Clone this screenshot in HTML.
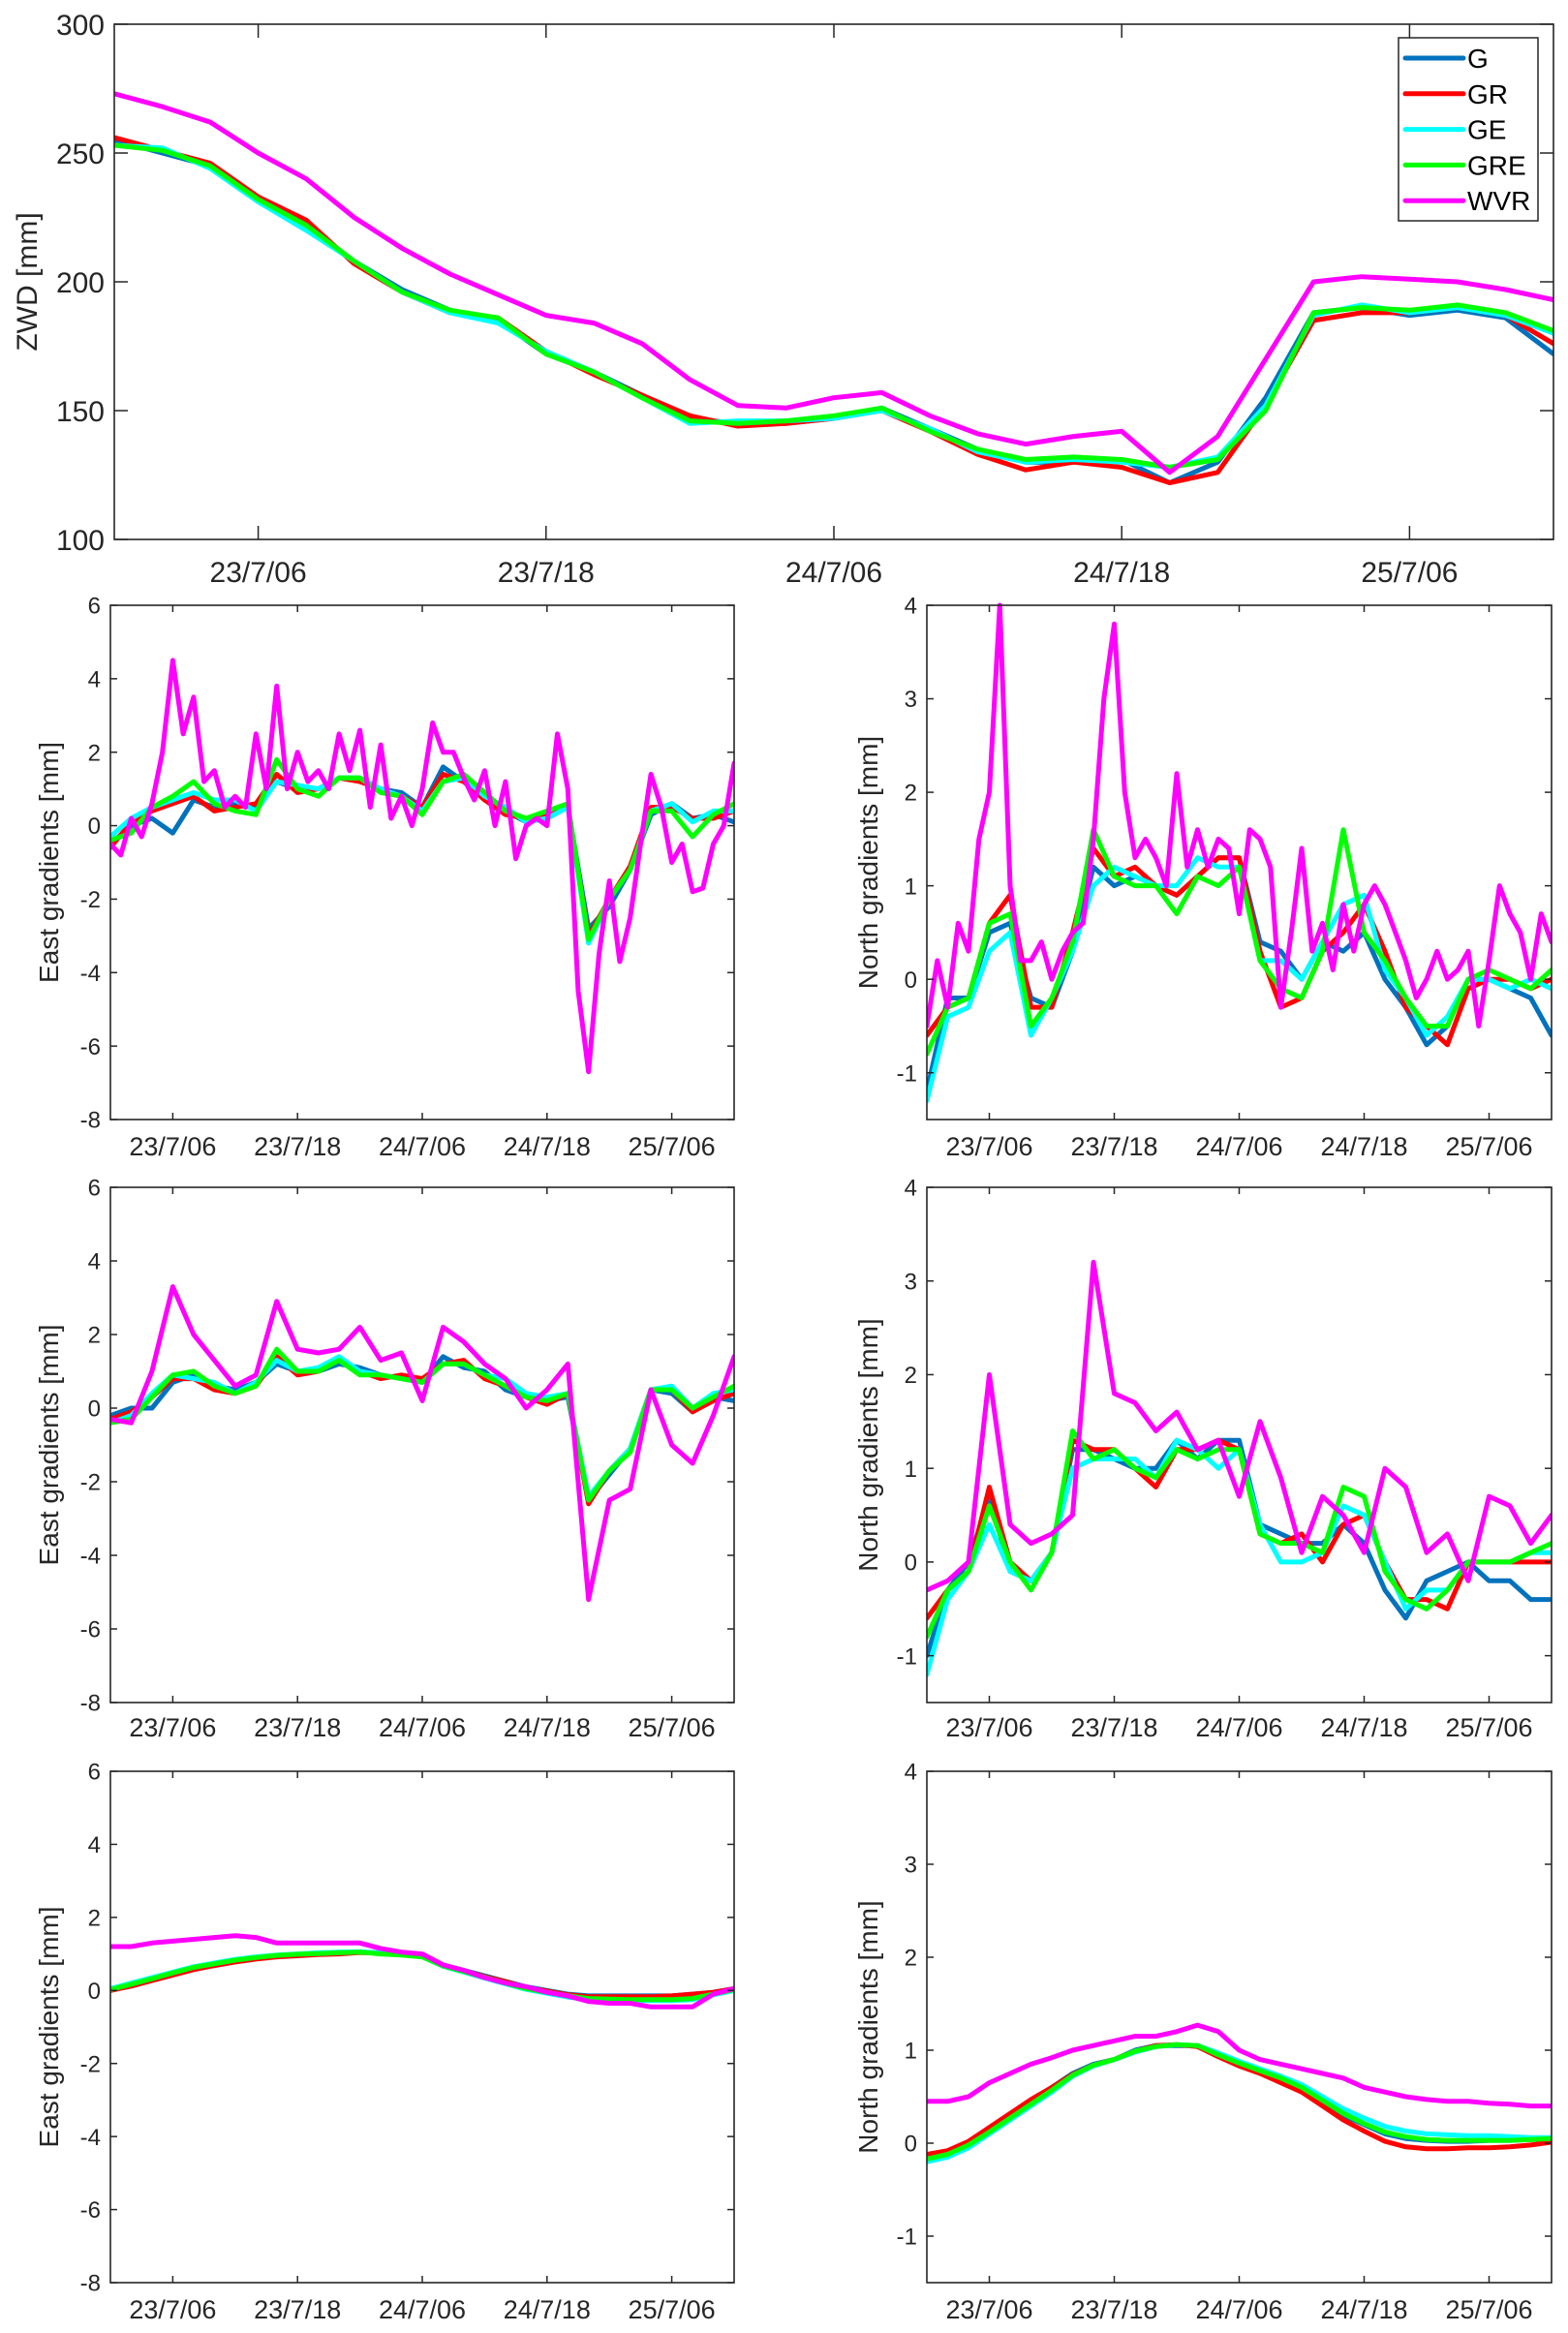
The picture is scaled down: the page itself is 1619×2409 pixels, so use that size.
<!DOCTYPE html>
<html><head><meta charset="utf-8">
<style>
html,body{margin:0;padding:0;background:#fff;}
svg{display:block;font-family:"Liberation Sans",Arial,sans-serif;}
</style></head>
<body>
<svg id="fig" xmlns="http://www.w3.org/2000/svg" width="1619" height="2409" viewBox="0 0 1619 2409"></svg>
<script>
// ---- data (hours since 23/7 00:00) ----
const T2 = [0,2,4,6,8,10,12,14,16,18,20,22,24,26,28,30,32,34,36,38,40,42,44,46,48,50,52,54,56,58,60];
const TH = [0,1,2,3,4,5,6,7,8,9,10,11,12,13,14,15,16,17,18,19,20,21,22,23,24,25,26,27,28,29,30,31,32,33,34,35,36,37,38,39,40,41,42,43,44,45,46,47,48,49,50,51,52,53,54,55,56,57,58,59,60];
const xTickHours = [6,18,30,42,54];
const xTickLabels = ["23/7/06","23/7/18","24/7/06","24/7/18","25/7/06"];
const zwdTicks = [100,150,200,250,300];
const eastTicks = [-8,-6,-4,-2,0,2,4,6];
const northTicks = [-1,0,1,2,3,4];
const seriesNames = ["G","GR","GE","GRE","WVR"];

// ZWD
const zwdG   = [255,250,245,232,222,208,197,189,185,172,165,156,147,145,145,147,151,143,135,130,130,131,122,130,155,188,190,187,189,186,172];
const zwdGR  = [256,251,246,233,224,207,196,188,186,173,164,156,148,144,145,147,150,142,133,127,130,128,122,126,152,185,188,188,190,187,176];
const zwdGE  = [253,252,244,231,220,208,196,188,184,173,165,155,145,146,146,147,150,143,134,130,131,130,128,132,152,187,191,188,190,187,180];
const zwdGRE = [253,251,245,232,222,208,196,189,186,172,165,155,146,145,146,148,151,142,135,131,132,131,128,131,150,188,190,189,191,188,181];
const zwdWVR = [273,268,262,250,240,225,213,203,195,187,184,176,162,152,151,155,157,148,141,137,140,142,126,140,170,200,202,201,200,197,193];

// Row 2 east
const e2G   = [-0.5,0,0.2,-0.2,0.7,0.5,0.6,0.5,1.2,1.0,1.0,1.3,1.3,1.0,0.9,0.5,1.6,1.2,0.8,0.4,0.1,0.2,0.5,-2.8,-2.2,-1.2,0.3,0.6,0.2,0.3,0.1];
const e2GR  = [-0.6,0.1,0.4,0.6,0.8,0.4,0.5,0.6,1.4,0.9,1.0,1.3,1.2,1.0,0.8,0.5,1.4,1.2,0.7,0.3,0.2,0.3,0.5,-3.0,-2.0,-1.1,0.5,0.5,0.2,0.2,0.4];
const e2GE  = [-0.3,0.2,0.5,0.7,0.9,0.7,0.7,0.4,1.2,1.1,1.0,1.3,1.3,1.0,0.8,0.4,1.2,1.3,0.8,0.5,0.1,0.2,0.5,-3.2,-2.0,-1.2,0.4,0.6,0.1,0.4,0.4];
const e2GRE = [-0.4,-0.2,0.5,0.8,1.2,0.6,0.4,0.3,1.8,1.0,0.8,1.3,1.3,0.9,0.8,0.3,1.2,1.4,0.9,0.4,0.2,0.4,0.6,-3.1,-2.0,-1.2,0.4,0.4,-0.3,0.3,0.6];
const e2WVR = [-0.5,-0.8,0.2,-0.3,0.6,2.0,4.5,2.5,3.5,1.2,1.5,0.5,0.8,0.5,2.5,1.0,3.8,1.0,2.0,1.2,1.5,1.0,2.5,1.5,2.6,0.5,2.2,0.2,0.8,0.0,1.0,2.8,2.0,2.0,1.3,0.7,1.5,0.0,1.2,-0.9,0.0,0.2,0.0,2.5,1.0,-4.5,-6.7,-3.5,-1.5,-3.7,-2.5,-0.5,1.4,0.5,-1.0,-0.5,-1.8,-1.7,-0.5,0.0,1.7];

// Row 2 north
const n2G   = [-1.2,-0.2,-0.2,0.5,0.6,-0.2,-0.3,0.3,1.2,1.0,1.1,1.0,0.9,1.1,1.3,1.3,0.4,0.3,0.0,0.4,0.3,0.5,0.0,-0.3,-0.7,-0.5,0.0,0.0,-0.1,-0.2,-0.6];
const n2GR  = [-0.6,-0.3,-0.2,0.6,0.9,-0.3,-0.3,0.5,1.4,1.1,1.2,1.0,0.9,1.1,1.3,1.3,0.3,-0.3,-0.2,0.3,0.5,0.8,0.3,-0.3,-0.5,-0.7,-0.1,0.0,0.0,-0.1,0.0];
const n2GE  = [-1.3,-0.4,-0.3,0.3,0.5,-0.6,-0.2,0.3,1.0,1.2,1.1,1.0,1.0,1.3,1.2,1.2,0.2,0.2,0.0,0.4,0.8,0.9,0.1,-0.2,-0.6,-0.4,0.0,0.0,-0.1,0.0,-0.1];
const n2GRE = [-0.8,-0.3,-0.2,0.6,0.7,-0.5,-0.2,0.4,1.6,1.1,1.0,1.0,0.7,1.1,1.0,1.2,0.2,-0.1,-0.2,0.3,1.6,0.5,0.2,-0.2,-0.5,-0.5,0.0,0.1,0.0,-0.1,0.1];
const n2WVR = [-0.5,0.2,-0.3,0.6,0.3,1.5,2.0,4.0,1.0,0.2,0.2,0.4,0.0,0.3,0.5,0.6,1.5,3.0,3.8,2.0,1.3,1.5,1.3,1.0,2.2,1.2,1.6,1.2,1.5,1.4,0.7,1.6,1.5,1.2,-0.3,0.5,1.4,0.3,0.6,0.1,0.8,0.3,0.8,1.0,0.8,0.5,0.2,-0.2,0.0,0.3,0.0,0.1,0.3,-0.5,0.2,1.0,0.7,0.5,0.0,0.7,0.4];

// Row 3 east
const e3G   = [-0.2,0.0,0.0,0.7,0.9,0.6,0.5,0.7,1.2,1.0,1.0,1.2,1.1,0.9,0.8,0.7,1.4,1.1,1.0,0.5,0.3,0.2,0.3,-2.5,-1.8,-1.1,0.5,0.4,-0.1,0.3,0.2];
const e3GR  = [-0.3,-0.1,0.3,0.8,0.8,0.5,0.4,0.6,1.4,0.9,1.0,1.3,1.0,0.8,0.9,0.8,1.2,1.3,0.8,0.6,0.3,0.1,0.4,-2.6,-1.7,-1.1,0.5,0.5,-0.1,0.2,0.4];
const e3GE  = [-0.4,-0.2,0.4,0.9,0.8,0.7,0.4,0.7,1.3,1.0,1.1,1.4,1.0,0.9,0.8,0.7,1.2,1.2,0.9,0.8,0.4,0.3,0.4,-2.4,-1.7,-1.1,0.5,0.6,0.0,0.4,0.5];
const e3GRE = [-0.4,-0.3,0.3,0.9,1.0,0.6,0.4,0.6,1.6,1.0,1.0,1.3,0.9,0.9,0.8,0.7,1.2,1.2,0.9,0.6,0.3,0.2,0.4,-2.5,-1.7,-1.2,0.5,0.5,0.0,0.3,0.6];
const e3WVR = [-0.3,-0.4,1.0,3.3,2.0,1.3,0.6,0.9,2.9,1.6,1.5,1.6,2.2,1.3,1.5,0.2,2.2,1.8,1.2,0.8,0.0,0.5,1.2,-5.2,-2.5,-2.2,0.5,-1.0,-1.5,-0.2,1.4];

// Row 3 north
const n3G   = [-1.0,-0.3,0.0,0.7,-0.1,-0.2,0.1,1.2,1.2,1.1,1.0,1.0,1.3,1.1,1.3,1.3,0.4,0.3,0.2,0.2,0.4,0.2,-0.3,-0.6,-0.2,-0.1,0.0,-0.2,-0.2,-0.4,-0.4];
const n3GR  = [-0.6,-0.3,-0.1,0.8,0.0,-0.2,0.1,1.3,1.2,1.2,1.0,0.8,1.2,1.2,1.3,1.2,0.3,0.2,0.3,0.0,0.4,0.5,0.0,-0.4,-0.4,-0.5,0.0,0.0,0.0,0.0,0.0];
const n3GE  = [-1.2,-0.4,-0.1,0.4,-0.1,-0.2,0.1,1.0,1.1,1.1,1.1,0.9,1.3,1.2,1.0,1.2,0.4,0.0,0.0,0.1,0.6,0.5,0.0,-0.5,-0.3,-0.3,0.0,0.0,0.0,0.1,0.1];
const n3GRE = [-0.8,-0.3,-0.1,0.6,0.0,-0.3,0.1,1.4,1.1,1.2,1.0,0.9,1.2,1.1,1.2,1.2,0.3,0.2,0.2,0.1,0.8,0.7,-0.1,-0.4,-0.5,-0.3,0.0,0.0,0.0,0.1,0.2];
const n3WVR = [-0.3,-0.2,0.0,2.0,0.4,0.2,0.3,0.5,3.2,1.8,1.7,1.4,1.6,1.2,1.3,0.7,1.5,0.9,0.1,0.7,0.5,0.1,1.0,0.8,0.1,0.3,-0.2,0.7,0.6,0.2,0.5];

// Row 4 east
const e4G   = [0,0.15,0.3,0.45,0.6,0.7,0.8,0.88,0.95,0.97,1.0,1.02,1.05,1.03,1.0,0.95,0.7,0.55,0.4,0.25,0.1,0.0,-0.1,-0.15,-0.15,-0.15,-0.15,-0.15,-0.1,-0.05,0.05];
const e4GR  = [0,0.12,0.27,0.42,0.57,0.68,0.78,0.86,0.92,0.95,0.98,1.0,1.04,1.02,0.98,0.93,0.68,0.54,0.38,0.24,0.08,-0.02,-0.12,-0.17,-0.17,-0.17,-0.17,-0.15,-0.1,-0.05,0.05];
const e4GE  = [0.05,0.2,0.35,0.5,0.65,0.75,0.85,0.92,0.97,1.0,1.03,1.05,1.06,1.02,0.98,0.92,0.66,0.5,0.34,0.18,0.03,-0.08,-0.18,-0.25,-0.27,-0.28,-0.28,-0.28,-0.25,-0.12,0.0];
const e4GRE = [0.02,0.17,0.32,0.48,0.63,0.73,0.83,0.9,0.96,0.99,1.01,1.03,1.05,1.0,0.97,0.92,0.67,0.52,0.36,0.2,0.05,-0.05,-0.15,-0.22,-0.24,-0.25,-0.25,-0.25,-0.22,-0.1,0.02];
const e4WVR = [1.2,1.2,1.3,1.35,1.4,1.45,1.5,1.45,1.3,1.3,1.3,1.3,1.3,1.15,1.05,1.0,0.7,0.55,0.35,0.2,0.1,-0.05,-0.15,-0.3,-0.35,-0.35,-0.45,-0.45,-0.45,-0.1,0.05];

// Row 4 north
const n4G   = [-0.15,-0.1,0.0,0.15,0.3,0.45,0.6,0.75,0.85,0.9,1.0,1.05,1.05,1.05,0.95,0.85,0.78,0.7,0.6,0.45,0.3,0.2,0.1,0.05,0.03,0.02,0.02,0.03,0.03,0.04,0.05];
const n4GR  = [-0.12,-0.08,0.02,0.17,0.32,0.47,0.6,0.74,0.84,0.9,0.99,1.05,1.06,1.04,0.93,0.83,0.75,0.65,0.55,0.4,0.25,0.13,0.02,-0.04,-0.06,-0.06,-0.05,-0.05,-0.04,-0.02,0.01];
const n4GE  = [-0.2,-0.15,-0.05,0.1,0.25,0.4,0.55,0.72,0.83,0.9,0.98,1.04,1.06,1.05,0.97,0.88,0.8,0.72,0.63,0.5,0.37,0.27,0.18,0.13,0.1,0.09,0.08,0.08,0.07,0.06,0.06];
const n4GRE = [-0.17,-0.12,-0.02,0.12,0.27,0.42,0.57,0.73,0.84,0.9,0.99,1.04,1.06,1.05,0.95,0.86,0.78,0.7,0.6,0.46,0.32,0.21,0.12,0.07,0.04,0.03,0.03,0.03,0.03,0.04,0.05];
const n4WVR = [0.45,0.45,0.5,0.65,0.75,0.85,0.92,1.0,1.05,1.1,1.15,1.15,1.2,1.27,1.2,1.0,0.9,0.85,0.8,0.75,0.7,0.6,0.55,0.5,0.47,0.45,0.45,0.43,0.42,0.4,0.4];

const colors = {G:"#0072BD",GR:"#FF0000",GE:"#00FFFF",GRE:"#00FF00",WVR:"#FF00FF"};
const NS = "http://www.w3.org/2000/svg";
const svg = document.getElementById('fig');
function mk(tag, attrs, parent){
  const e = document.createElementNS(NS, tag);
  for (const k in attrs) e.setAttribute(k, attrs[k]);
  (parent||svg).appendChild(e);
  return e;
}

function panel(id, box, yMin, yMax, yTicks, yTitle, yTitleX, series, opts){
  const g = mk('g', {});
  
  
  const xs = t => box.x0 + (t/60)*(box.x1-box.x0);
  const ys = v => box.y1 - (v-yMin)/(yMax-yMin)*(box.y1-box.y0);
  const cid = 'clip-'+id;
  const cp = mk('clipPath', {id:cid}, g);
  mk('rect', {x:box.x0, y:box.y0-3, width:box.x1-box.x0, height:box.y1-box.y0+3}, cp);
  const lg = mk('g', {'clip-path':'url(#'+cid+')'}, g);
  series.forEach(s => {
    const d = s.v.map((v,i)=> (i?'L':'M')+xs(s.t[i]).toFixed(1)+','+ys(v).toFixed(1)).join(' ');
    const p = mk('path', {d:d, fill:'none', stroke:colors[s.n], 'stroke-width':opts.lw, 'stroke-linejoin':'round','stroke-linecap':'round'}, lg);
    
    
  });
  // frame
  const fr = mk('rect', {x:box.x0, y:box.y0, width:box.x1-box.x0, height:box.y1-box.y0, fill:'none', stroke:'#262626', 'stroke-width':1.6}, g);
  
  
  const tl = opts.tick;
  xTickHours.forEach((h,i)=>{
    const x = xs(h);
    mk('line', {x1:x, x2:x, y1:box.y1, y2:box.y1-tl, stroke:'#262626','stroke-width':1.5}, g);
    mk('line', {x1:x, x2:x, y1:box.y0, y2:box.y0+tl, stroke:'#262626','stroke-width':1.5}, g);
    const tx = mk('text', {x:x, y:opts.xLabelY, 'text-anchor':'middle', 'font-size':opts.fs, fill:'#262626'}, g);
    tx.textContent = xTickLabels[i];
    
    
  });
  yTicks.forEach(v=>{
    const y = ys(v);
    mk('line', {x1:box.x0, x2:box.x0+tl, y1:y, y2:y, stroke:'#262626','stroke-width':1.5}, g);
    mk('line', {x1:box.x1, x2:box.x1-tl, y1:y, y2:y, stroke:'#262626','stroke-width':1.5}, g);
    const tx = mk('text', {x:box.x0-10, y:y+opts.yfs*0.36, 'text-anchor':'end', 'font-size':opts.yfs, fill:'#262626'}, g);
    tx.textContent = v;
    
    
  });
  const cy = (box.y0+box.y1)/2;
  const tt = mk('text', {x:yTitleX, y:cy, 'text-anchor':'middle', 'font-size':opts.tfs, fill:'#262626', transform:'rotate(-90 '+yTitleX+' '+cy+')'}, g);
  tt.textContent = yTitle;
  
  
}

function S(n,t,v){return {n:n,t:t,v:v};}

panel('zwd-panel', {x0:118,x1:1604,y0:25,y1:557}, 100, 300, zwdTicks, 'ZWD [mm]', 38,
  [S('G',T2,zwdG),S('GR',T2,zwdGR),S('GE',T2,zwdGE),S('GRE',T2,zwdGRE),S('WVR',T2,zwdWVR)],
  {lw:5, tick:14, fs:30, yfs:30, tfs:30, xLabelY:601});

const L = {x0:114,x1:758}, R = {x0:957,x1:1602};
const rows = [
  {y0:625,y1:1156,lab:1193, e:[e2G,e2GR,e2GE,e2GRE], ew:e2WVR, et:TH, n:[n2G,n2GR,n2GE,n2GRE], nw:n2WVR, nt:TH, nm:-1.5},
  {y0:1226,y1:1758,lab:1793, e:[e3G,e3GR,e3GE,e3GRE], ew:e3WVR, et:T2, n:[n3G,n3GR,n3GE,n3GRE], nw:n3WVR, nt:T2, nm:-1.5},
  {y0:1829,y1:2357,lab:2394, e:[e4G,e4GR,e4GE,e4GRE], ew:e4WVR, et:T2, n:[n4G,n4GR,n4GE,n4GRE], nw:n4WVR, nt:T2, nm:-1.5}
];
const o2 = {lw:5, tick:7, fs:27, yfs:24, tfs:28};
rows.forEach((r,i)=>{
  panel('east-panel-'+(i+1), {x0:L.x0,x1:L.x1,y0:r.y0,y1:r.y1}, -8, 6, eastTicks, 'East gradients [mm]', 60,
    [S('G',T2,r.e[0]),S('GR',T2,r.e[1]),S('GE',T2,r.e[2]),S('GRE',T2,r.e[3]),S('WVR',r.et,r.ew)],
    Object.assign({xLabelY:r.lab}, o2));
  panel('north-panel-'+(i+1), {x0:R.x0,x1:R.x1,y0:r.y0,y1:r.y1}, r.nm, 4, northTicks, 'North gradients [mm]', 906,
    [S('G',T2,r.n[0]),S('GR',T2,r.n[1]),S('GE',T2,r.n[2]),S('GRE',T2,r.n[3]),S('WVR',r.nt,r.nw)],
    Object.assign({xLabelY:r.lab}, o2));
});

// legend
const lg = mk('g', {});


mk('rect', {x:1444, y:39, width:144, height:189, fill:'#fff', stroke:'#262626', 'stroke-width':1.5}, lg);
seriesNames.forEach((n,i)=>{
  const y = 60 + i*36.8;
  const e = mk('g', {}, lg);
  
  
  mk('line', {x1:1451, x2:1511, y1:y, y2:y, stroke:colors[n], 'stroke-width':5, 'stroke-linecap':'round'}, e);
  const t = mk('text', {x:1515, y:y+10, 'font-size':28, fill:'#000'}, e);
  t.textContent = n;
});
</script>
</body></html>
